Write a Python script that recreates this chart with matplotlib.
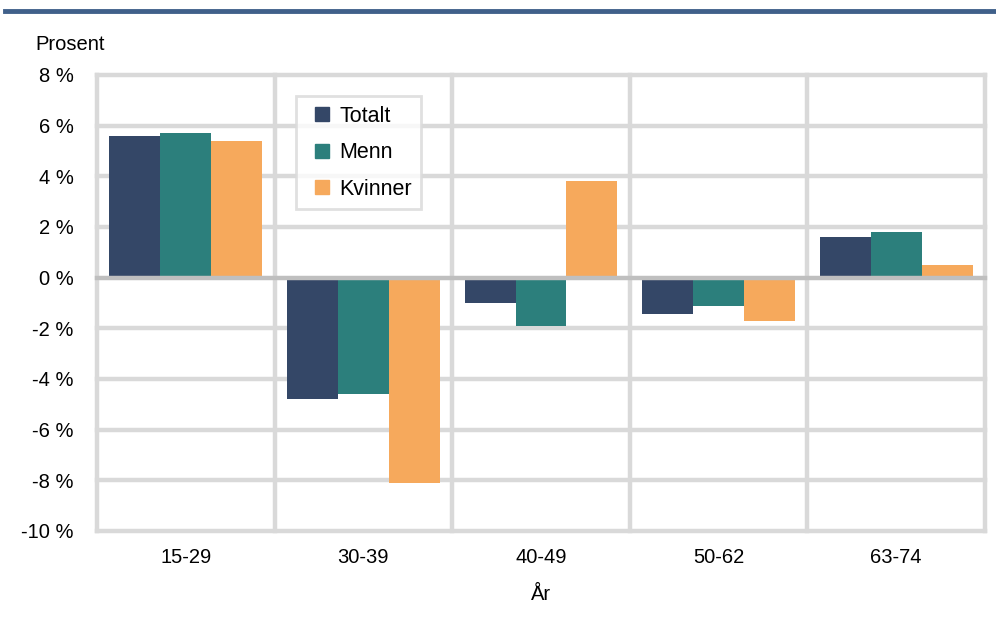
import matplotlib
matplotlib.use("Agg")
import matplotlib.pyplot as plt
from matplotlib.lines import Line2D
import numpy as np

plt.rcParams['font.family'] = ['Liberation Sans', 'DejaVu Sans']

categories = ["15-29", "30-39", "40-49", "50-62", "63-74"]
series_names = ["Totalt", "Menn", "Kvinner"]
totalt = [5.6, -4.8, -1.0, -1.45, 1.6]
menn = [5.7, -4.6, -1.9, -1.1, 1.8]
kvinner = [5.4, -8.1, 3.8, -1.7, 0.5]
y_ticks = [-10, -8, -6, -4, -2, 0, 2, 4, 6, 8]
y_tick_labels = ["-10 %", "-8 %", "-6 %", "-4 %", "-2 %", "0 %", "2 %", "4 %", "6 %", "8 %"]
colors = ["#344767", "#2C7F7C", "#F6A95C"]

FS = 14.5
LFS = 15.5
W, H = 996, 618
fig = plt.figure(figsize=(W / 100, H / 100), dpi=100)
ax = fig.add_axes([97 / W, (H - 531) / H, (985 - 97) / W, (531 - 75) / H])

x = np.arange(len(categories))
bw = 0.287
grid_c = "#D9D9D9"
for i, (vals, name, c) in enumerate(zip([totalt, menn, kvinner], series_names, colors)):
    ax.bar(x + (i - 1) * bw, vals, width=bw, color=c, label=name, zorder=3)

ax.set_xlim(-0.5, len(categories) - 0.5)
ax.set_ylim(-10, 8)
ax.set_yticks(y_ticks)
ax.set_yticklabels(y_tick_labels)
ax.set_xticks(x)
ax.set_xticklabels(categories)
ax.tick_params(axis='both', length=0, labelsize=FS, colors="#000000")
ax.tick_params(axis='y', pad=17)
ax.tick_params(axis='x', pad=12)

for yv in y_ticks:
    if yv != 0:
        ax.axhline(yv, color=grid_c, lw=3.2, zorder=1, clip_on=False)
for xv in np.arange(-0.5, len(categories), 1.0):
    ax.axvline(xv, color=grid_c, lw=3.2, zorder=1, clip_on=False)
ax.axhline(0, color="#BFBFBF", lw=3.2, zorder=4, clip_on=False)

for s in ax.spines.values():
    s.set_visible(False)

ax.set_xlabel("År", fontsize=FS, labelpad=13)
fig.text(35 / W, 1 - 44 / H, "Prosent", fontsize=FS, va='center', ha='left')

# top rule
fig.add_artist(Line2D([5 / W, 1.0], [1 - 11 / H, 1 - 11 / H], color="#40608A", lw=3.5,
                      transform=fig.transFigure))

handles = [Line2D([], [], marker='s', linestyle='none', markersize=9.5,
                  markerfacecolor=c, markeredgecolor=c) for c in colors]
leg = ax.legend(handles, series_names, loc='upper left',
                bbox_to_anchor=((296 - 97) / (985 - 97), (531 - 96) / (531 - 75)),
                fontsize=LFS, frameon=True, fancybox=False, edgecolor="#D9D9D9",
                handlelength=1.5, handletextpad=0.05,
                labelspacing=0.72, borderpad=0.45, borderaxespad=0)
leg.get_frame().set_linewidth(2)
leg.set_zorder(5)

fig.savefig("out.png", dpi=100)
